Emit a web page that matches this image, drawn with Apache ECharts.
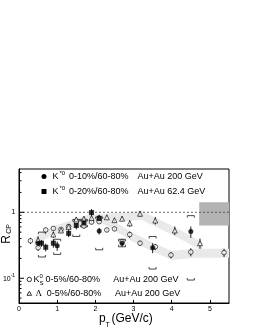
<!DOCTYPE html>
<html>
<head>
<meta charset="utf-8">
<script src="https://cdn.jsdelivr.net/npm/echarts@6/dist/echarts.min.js"></script>
<style>html,body{margin:0;padding:0;background:#fff}#c{width:255px;height:330px}</style>
</head>
<body>
<div id="c"></div>
<script>
// ---- data ----
const xTickLabels = ['0','1','2','3','4','5'];
const yTickMajor = [0.1, 1];
const yTickMinor = [0.05,0.06,0.07,0.08,0.09,0.2,0.3,0.4,0.5,0.6,0.7,0.8,0.9,2,3,4];

// K0S 0-5%/60-80% Au+Au 200 GeV (open circles)
const k0sX   = [0.3, 0.5, 0.7, 0.9, 1.1, 1.3, 1.5, 1.7, 1.9, 2.1, 2.3, 2.5, 2.7, 2.9, 3.17, 3.57, 3.98, 4.5, 5.37];
const k0sY   = [0.37, 0.29, 0.54, 0.57, 0.55, 0.61, 0.72, 0.62, 0.71, 0.72, 0.54, 0.56, 0.36, 0.46, 0.34, 0.30, 0.225, 0.25, 0.245];
const k0sErr = [0.04, 0.03, 0.04, 0.04, 0.04, 0.04, 0.05, 0.05, 0.05, 0.05, 0.04, 0.04, 0.03, 0.05, 0.03, 0.03, 0.025, 0.035, 0.035];

// Lambda 0-5%/60-80% Au+Au 200 GeV (open triangles)
const lamX   = [0.5, 0.9, 1.1, 1.3, 1.5, 1.7, 1.9, 2.1, 2.3, 2.5, 2.7, 2.9, 3.17, 3.57, 4.08, 4.74];
const lamY   = [0.38, 0.46, 0.53, 0.60, 0.78, 0.80, 0.82, 0.83, 0.84, 0.76, 0.80, 0.68, 0.95, 0.75, 0.53, 0.34];
const lamErr = [0.05, 0.05, 0.05, 0.05, 0.06, 0.06, 0.06, 0.06, 0.06, 0.06, 0.07, 0.08, 0.1, 0.1, 0.08, 0.06];

// K*0 0-10%/60-80% Au+Au 200 GeV (filled circles)
const ks200X   = [0.5, 1.0, 2.1, 2.7, 3.5, 4.5];
const ks200Y   = [0.34, 0.31, 0.52, 0.34, 0.29, 0.51];
const ks200Err = [0.05, 0.05, 0.06, 0.04, 0.05, 0.1];

// K*0 0-20%/60-80% Au+Au 62.4 GeV (filled squares)
const ks62X   = [0.59, 0.7, 0.9, 1.3, 1.5, 1.7, 1.9, 2.1];
const ks62Y   = [0.34, 0.295, 0.34, 0.48, 0.63, 0.69, 0.99, 0.81];
const ks62Err = [0.04, 0.04, 0.05, 0.06, 0.08, 0.08, 0.13, 0.1];

// systematic brackets
const sysX  = [0.6, 1.0, 1.5, 1.7, 2.1, 2.7, 3.5, 4.5];
const sysLo = [0.21, 0.23, 0.43, 0.60, 0.27, 0.30, 0.138, 0.094];
const sysHi = [0.50, 0.39, 0.78, 0.78, 0.85, 0.39, 0.43, 0.89];

// shaded bands
const bandAX  = [0.4, 0.8, 1.3, 1.8, 2.3, 2.8, 3.2, 3.65, 4.2, 4.8];
const bandALo = [0.31, 0.43, 0.54, 0.67, 0.70, 0.73, 0.77, 0.58, 0.40, 0.26];
const bandAHi = [0.42, 0.58, 0.74, 0.91, 0.96, 0.99, 1.06, 0.79, 0.55, 0.35];
const bandBX  = [2.2, 2.5, 2.9, 3.4, 4.0, 4.6, 5.5];
const bandBLo = [0.67, 0.53, 0.38, 0.27, 0.19, 0.205, 0.205];
const bandBHi = [0.91, 0.72, 0.52, 0.37, 0.26, 0.28, 0.28];

// normalisation box
const boxX = [4.72, 5.5];
const boxY = [0.63, 1.42];

// ---- chart ----
const FONT = 'Liberation Sans';
const chart = echarts.init(document.getElementById('c'), null, {renderer:'canvas'});

function bandRender(bx, blo, bhi) {
  return function (params, api) {
    if (params.dataIndex !== 0) return null;
    const pts = [];
    for (let i = 0; i < bx.length; i++) pts.push(api.coord([bx[i], bhi[i]]));
    for (let i = bx.length - 1; i >= 0; i--) pts.push(api.coord([bx[i], blo[i]]));
    return {type:'polygon', shape:{points:pts}, style:{fill:'#e9e9e9'}};
  };
}
function errData(xs, ys, es) { return xs.map((x, i) => [x, ys[i] - es[i], ys[i] + es[i]]); }
function errRender(params, api) {
  const a = api.coord([api.value(0), api.value(1)]);
  const b = api.coord([api.value(0), api.value(2)]);
  return {type:'line', shape:{x1:a[0], y1:a[1], x2:b[0], y2:b[1]}, style:{stroke:'#222', lineWidth:1}};
}
function errSeries(xs, ys, es) {
  return {type:'custom', z:3, data:errData(xs, ys, es), encode:{x:0, y:[1,2]}, renderItem:errRender, silent:true};
}

chart.setOption({
  animation:false,
  grid:{left:19, top:169, width:210, height:134, show:true, borderColor:'#000', borderWidth:1, backgroundColor:'transparent'},
  xAxis:{type:'value', min:0, max:5.5, interval:1,
    axisLine:{show:true, lineStyle:{color:'#000', width:1}},
    axisTick:{show:true, inside:true, length:3, lineStyle:{color:'#000'}},
    axisLabel:{show:true, showMaxLabel:false, margin:3, fontSize:7, color:'#000', fontFamily:FONT,
      formatter:(v)=> xTickLabels[Math.round(v)] !== undefined && Math.abs(v-Math.round(v))<1e-6 ? xTickLabels[Math.round(v)] : ''},
    splitLine:{show:false}},
  yAxis:{type:'log', min:0.0422, max:4.53,
    axisLine:{show:true, lineStyle:{color:'#000', width:1}},
    axisTick:{show:false}, axisLabel:{show:false}, splitLine:{show:false}, minorTick:{show:false}},
  graphic:[
    // axis titles
    {type:'text', x:6.5, y:239.5, rotation:Math.PI/2, style:{text:'R', fontSize:12, fontFamily:FONT, fill:'#000', align:'center', verticalAlign:'middle'}},
    {type:'text', x:9, y:229, rotation:Math.PI/2, style:{text:'CP', fontSize:7, fontFamily:FONT, fill:'#000', align:'center', verticalAlign:'middle'}},
    {type:'text', x:99, y:318.5, style:{text:'p', fontSize:12, fontFamily:FONT, fill:'#000', align:'left', verticalAlign:'middle'}},
    {type:'text', x:105.5, y:325, style:{text:'T', fontSize:7, fontFamily:FONT, fill:'#000', align:'left', verticalAlign:'middle'}},
    {type:'text', x:111.5, y:318.5, style:{text:'(GeV/c)', fontSize:12, fontFamily:FONT, fill:'#000', align:'left', verticalAlign:'middle'}},
    // top legend
    {type:'circle', shape:{cx:44, cy:176.5, r:2.5}, style:{fill:'#000'}},
    {type:'text', x:52.5, y:177, style:{text:'K', fontSize:9, fontFamily:FONT, fill:'#000', align:'left', verticalAlign:'middle'}},
    {type:'text', x:59.5, y:173, style:{text:'*0', fontSize:6, fontFamily:FONT, fill:'#000', align:'left', verticalAlign:'middle'}},
    {type:'text', x:69, y:177, style:{text:'0-10%/60-80%', fontSize:9, fontFamily:FONT, fill:'#000', align:'left', verticalAlign:'middle'}},
    {type:'text', x:137.5, y:177, style:{text:'Au+Au 200 GeV', fontSize:9, fontFamily:FONT, fill:'#000', align:'left', verticalAlign:'middle'}},
    {type:'rect', shape:{x:41.5, y:189, width:5, height:5}, style:{fill:'#000'}},
    {type:'text', x:52.5, y:192, style:{text:'K', fontSize:9, fontFamily:FONT, fill:'#000', align:'left', verticalAlign:'middle'}},
    {type:'text', x:59.5, y:188, style:{text:'*0', fontSize:6, fontFamily:FONT, fill:'#000', align:'left', verticalAlign:'middle'}},
    {type:'text', x:69, y:192, style:{text:'0-20%/60-80%', fontSize:9, fontFamily:FONT, fill:'#000', align:'left', verticalAlign:'middle'}},
    {type:'text', x:137.5, y:192, style:{text:'Au+Au 62.4 GeV', fontSize:9, fontFamily:FONT, fill:'#000', align:'left', verticalAlign:'middle'}},
    // bottom legend
    {type:'circle', shape:{cx:29.3, cy:279.5, r:2.2}, style:{fill:'#fff', stroke:'#000', lineWidth:0.8}},
    {type:'text', x:33.5, y:280, style:{text:'K', fontSize:9, fontFamily:FONT, fill:'#000', align:'left', verticalAlign:'middle'}},
    {type:'text', x:39.5, y:276, style:{text:'0', fontSize:6, fontFamily:FONT, fill:'#000', align:'left', verticalAlign:'middle'}},
    {type:'text', x:39.5, y:283.5, style:{text:'S', fontSize:6, fontFamily:FONT, fill:'#000', align:'left', verticalAlign:'middle'}},
    {type:'text', x:45.5, y:280, style:{text:'0-5%/60-80%', fontSize:9, fontFamily:FONT, fill:'#000', align:'left', verticalAlign:'middle'}},
    {type:'text', x:113.3, y:280, style:{text:'Au+Au 200 GeV', fontSize:9, fontFamily:FONT, fill:'#000', align:'left', verticalAlign:'middle'}},
    {type:'polygon', shape:{points:[[29.3,291.3],[31.6,295.3],[27,295.3]]}, style:{fill:'#fff', stroke:'#000', lineWidth:0.8}},
    {type:'text', x:35.5, y:294, style:{text:'Λ', fontSize:9, fontFamily:'Liberation Serif', fill:'#000', align:'left', verticalAlign:'middle'}},
    {type:'text', x:46.7, y:294, style:{text:'0-5%/60-80%', fontSize:9, fontFamily:FONT, fill:'#000', align:'left', verticalAlign:'middle'}},
    {type:'text', x:115, y:294, style:{text:'Au+Au 200 GeV', fontSize:9, fontFamily:FONT, fill:'#000', align:'left', verticalAlign:'middle'}}
  ],
  series:[
    {type:'custom', z:1, silent:true, data:bandAX.map((x,i)=>[x, bandAHi[i]]), encode:{x:0,y:1}, renderItem:bandRender(bandAX, bandALo, bandAHi)},
    {type:'custom', z:1, silent:true, data:bandBX.map((x,i)=>[x, bandBHi[i]]), encode:{x:0,y:1}, renderItem:bandRender(bandBX, bandBLo, bandBHi)},
    {type:'custom', z:1, silent:true, data:[[boxX[0], boxY[0], boxX[1], boxY[1]]], encode:{x:[0,2], y:[1,3]},
      renderItem:(params, api)=>{
        const a = api.coord([api.value(0), api.value(3)]);
        const b = api.coord([api.value(2), api.value(1)]);
        return {type:'rect', shape:{x:a[0], y:a[1], width:b[0]-a[0], height:b[1]-a[1]}, style:{fill:'#b3b3b3'}};
      }},
    // dotted line at 1
    {type:'custom', z:2, silent:true, data:[[0, 1, 5.5]], encode:{x:[0,2], y:1},
      renderItem:(params, api)=>{
        const a = api.coord([api.value(0), api.value(1)]);
        const b = api.coord([api.value(2), api.value(1)]);
        return {type:'line', shape:{x1:a[0], y1:a[1], x2:b[0], y2:b[1]}, style:{stroke:'#444', lineWidth:0.8, lineDash:[2,2]}};
      }},
    // y ticks
    {type:'custom', z:4, silent:true, clip:false,
      data:yTickMajor.map(v=>[0, v, 5]).concat(yTickMinor.map(v=>[0, v, 2.5])), encode:{x:0,y:1},
      renderItem:(params, api)=>{
        const p = api.coord([0, api.value(1)]);
        return {type:'line', shape:{x1:p[0], y1:p[1], x2:p[0]+api.value(2), y2:p[1]}, style:{stroke:'#000', lineWidth:1}};
      }},
    // y labels
    {type:'custom', z:4, silent:true, clip:false, data:[[0, 1], [0, 0.1]], encode:{x:0,y:1},
      renderItem:(params, api)=>{
        const p = api.coord([0, api.value(1)]);
        if (params.dataIndex === 0) {
          return {type:'text', x:p[0]-3.5, y:p[1], style:{text:'1', fontSize:7, fontFamily:FONT, fill:'#000', align:'right', verticalAlign:'middle'}};
        }
        return {type:'group', children:[
          {type:'text', x:p[0]-8.3, y:p[1]+0.5, style:{text:'10', fontSize:7, fontFamily:FONT, fill:'#000', align:'right', verticalAlign:'middle'}},
          {type:'text', x:p[0]-8.3, y:p[1]-2.5, style:{text:'-1', fontSize:5, fontFamily:FONT, fill:'#000', align:'left', verticalAlign:'middle'}}
        ]};
      }},
    // systematic brackets
    {type:'custom', z:3, silent:true, data:sysX.map((x,i)=>[x, sysLo[i], sysHi[i]]), encode:{x:0, y:[1,2]},
      renderItem:(params, api)=>{
        const x = api.value(0);
        const pl = api.coord([x, api.value(1)]);
        const ph = api.coord([x, api.value(2)]);
        const w = 3.5, t = 2;
        const st = {stroke:'#333', lineWidth:0.9, fill:null};
        return {type:'group', children:[
          {type:'polyline', shape:{points:[[ph[0]-w, ph[1]+t],[ph[0]-w, ph[1]],[ph[0]+w, ph[1]],[ph[0]+w, ph[1]+t]]}, style:st},
          {type:'polyline', shape:{points:[[pl[0]-w, pl[1]-t],[pl[0]-w, pl[1]],[pl[0]+w, pl[1]],[pl[0]+w, pl[1]-t]]}, style:st}
        ]};
      }},
    errSeries(k0sX, k0sY, k0sErr),
    errSeries(lamX, lamY, lamErr),
    errSeries(ks200X, ks200Y, ks200Err),
    errSeries(ks62X, ks62Y, ks62Err),
    {type:'scatter', z:5, symbol:'circle', symbolSize:4.6, data:k0sX.map((x,i)=>[x, k0sY[i]]),
      itemStyle:{color:'#fff', borderColor:'#000', borderWidth:0.8}},
    {type:'scatter', z:5, symbol:'triangle', symbolSize:5, data:lamX.map((x,i)=>[x, lamY[i]]),
      itemStyle:{color:'#fff', borderColor:'#000', borderWidth:0.8}},
    {type:'scatter', z:6, symbol:'circle', symbolSize:5, data:ks200X.map((x,i)=>[x, ks200Y[i]]),
      itemStyle:{color:'#000'}},
    {type:'scatter', z:6, symbol:'rect', symbolSize:5, data:ks62X.map((x,i)=>[x, ks62Y[i]]),
      itemStyle:{color:'#000'}}
  ]
});
</script>
</body>
</html>
